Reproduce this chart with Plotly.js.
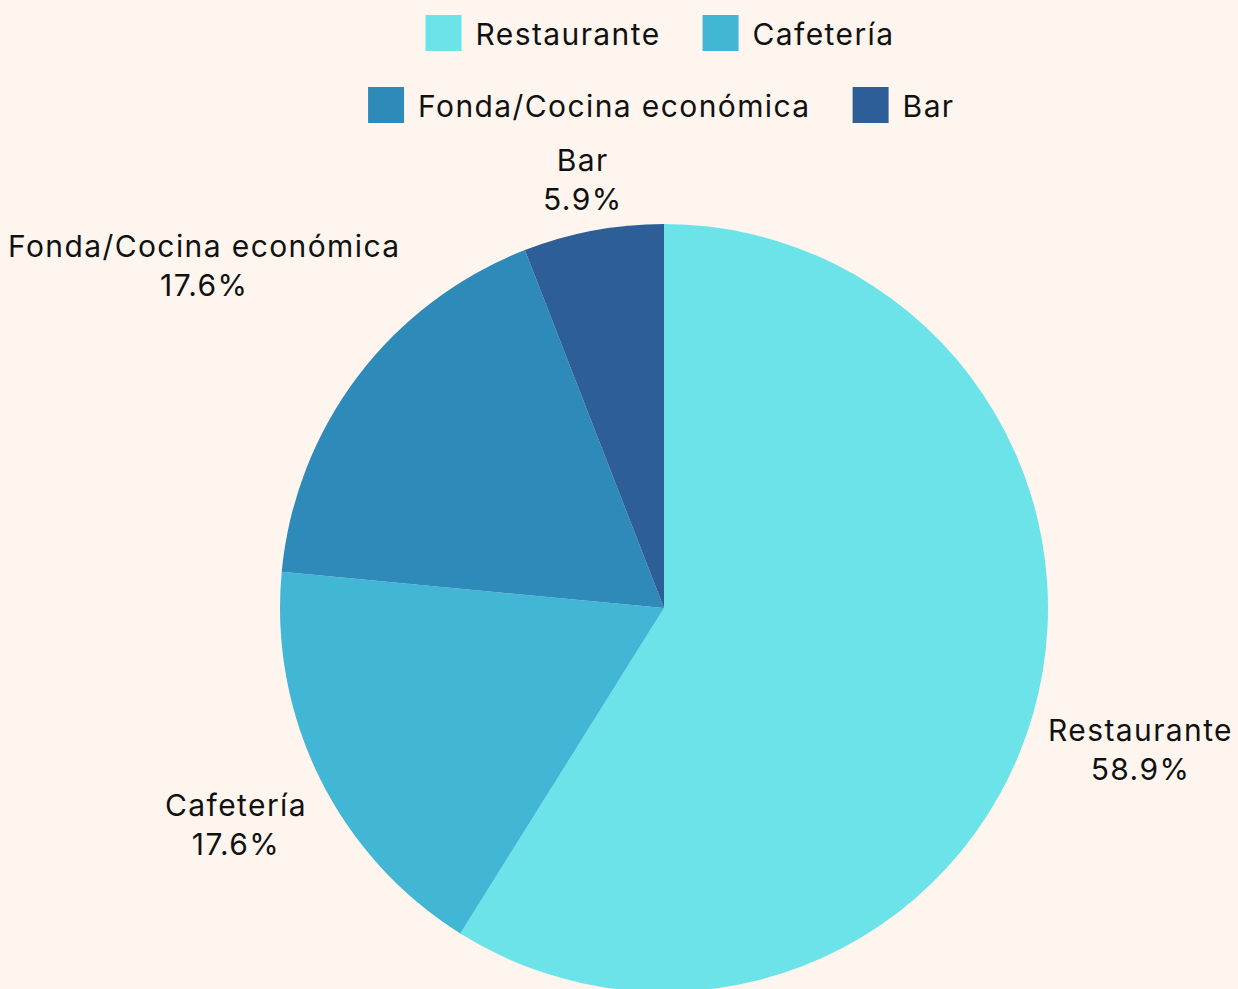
<!DOCTYPE html>
<html>
<head>
<meta charset="utf-8">
<script src="https://cdn.plot.ly/plotly-3.0.1.min.js"></script>
<style>
html,body{margin:0;padding:0;overflow:hidden;background:#FEF6EE;}
text{letter-spacing:1.4px;}
.legendpoints path{transform:translate(55px,0px) scale(2.25);}
</style>
</head>
<body>
<div id="chart" style="width:1238px;height:995px;"></div>
<script>
const categories = ["Restaurante", "Cafetería", "Fonda/Cocina económica", "Bar"];
const values = [58.9, 17.6, 17.6, 5.9];
const colors = ["#6BE3E8", "#42B6D5", "#2E8AB9", "#2E5E97"];
const legendRow = ["legend", "legend", "legend2", "legend2"];

const FONT = {family: "Inter, sans-serif", size: 30, color: "#111111"};
const W = 1238, H = 995;
const M = {l: 280, r: 190, t: 224, b: 3};
const plotW = W - M.l - M.r, plotH = H - M.t - M.b;
const R = Math.min(plotW, plotH) / 2;
const GAP = 11;
const TEXT_DY = 5;

const pie = {
  type: "pie",
  labels: categories,
  values: values,
  sort: false,
  direction: "clockwise",
  rotation: 0,
  marker: {colors: colors, line: {width: 0}},
  textinfo: "none",
  showlegend: false,
  hoverinfo: "label+percent"
};

// legend entries (one per category), split over two centred rows
const legendTraces = categories.map((c, i) => ({
  type: "scatter",
  x: [null],
  y: [null],
  mode: "markers",
  name: c,
  legend: legendRow[i],
  marker: {symbol: "square", size: 16, color: colors[i]},
  hoverinfo: "skip",
  showlegend: true
}));

// slice mid-angles (clockwise from 12 o'clock) computed from the values
const total = values.reduce((a, b) => a + b, 0);
let cum = 0;
const mids = values.map(v => { const m = (cum + v / 2) / total; cum += v; return m * 2 * Math.PI; });
const labelTexts = categories.map((c, i) => c + "<br>" + (values[i] / total * 100).toFixed(1) + "%");

function placeAnn(i, dist) {
  const a = mids[i];
  const dx = Math.sin(a) * dist, dy = -Math.cos(a) * dist + TEXT_DY;
  return {x: 0.5 + dx / plotW, y: 0.5 - dy / plotH};
}

const annotations = labelTexts.map((t, i) => Object.assign({
  text: t, xref: "paper", yref: "paper", showarrow: false,
  xanchor: "center", yanchor: "middle", align: "center", font: FONT
}, placeAnn(i, R + GAP + 40)));

const legendBase = {
  orientation: "h",
  xanchor: "center",
  yref: "container",
  yanchor: "middle",
  itemwidth: 77,
  font: FONT,
  bgcolor: "rgba(0,0,0,0)"
};

const layout = {
  width: W,
  height: H,
  paper_bgcolor: "#FEF6EE",
  plot_bgcolor: "rgba(0,0,0,0)",
  margin: M,
  font: FONT,
  xaxis: {visible: false},
  yaxis: {visible: false},
  annotations: annotations,
  legend: Object.assign({}, legendBase, {x: 0.474, y: 1 - 33 / H}),
  legend2: Object.assign({}, legendBase, {x: 0.476, y: 1 - 105 / H})
};

Plotly.newPlot("chart", [pie].concat(legendTraces), layout, {displayModeBar: false, staticPlot: true}).then(gd => {
  // push each label outward so its box just clears the pie edge along the slice's mid direction
  const upd = {};
  gd.querySelectorAll("g.annotation").forEach(g => {
    const i = +g.getAttribute("data-index");
    const bb = g.querySelector(".annotation-text-g").getBoundingClientRect();
    const a = mids[i];
    const support = Math.abs(Math.sin(a)) * bb.width / 2 + Math.abs(Math.cos(a)) * bb.height / 2;
    const p = placeAnn(i, R + GAP + support);
    upd["annotations[" + i + "].x"] = p.x;
    upd["annotations[" + i + "].y"] = p.y;
  });
  return Plotly.relayout(gd, upd);
});
</script>
</body>
</html>
